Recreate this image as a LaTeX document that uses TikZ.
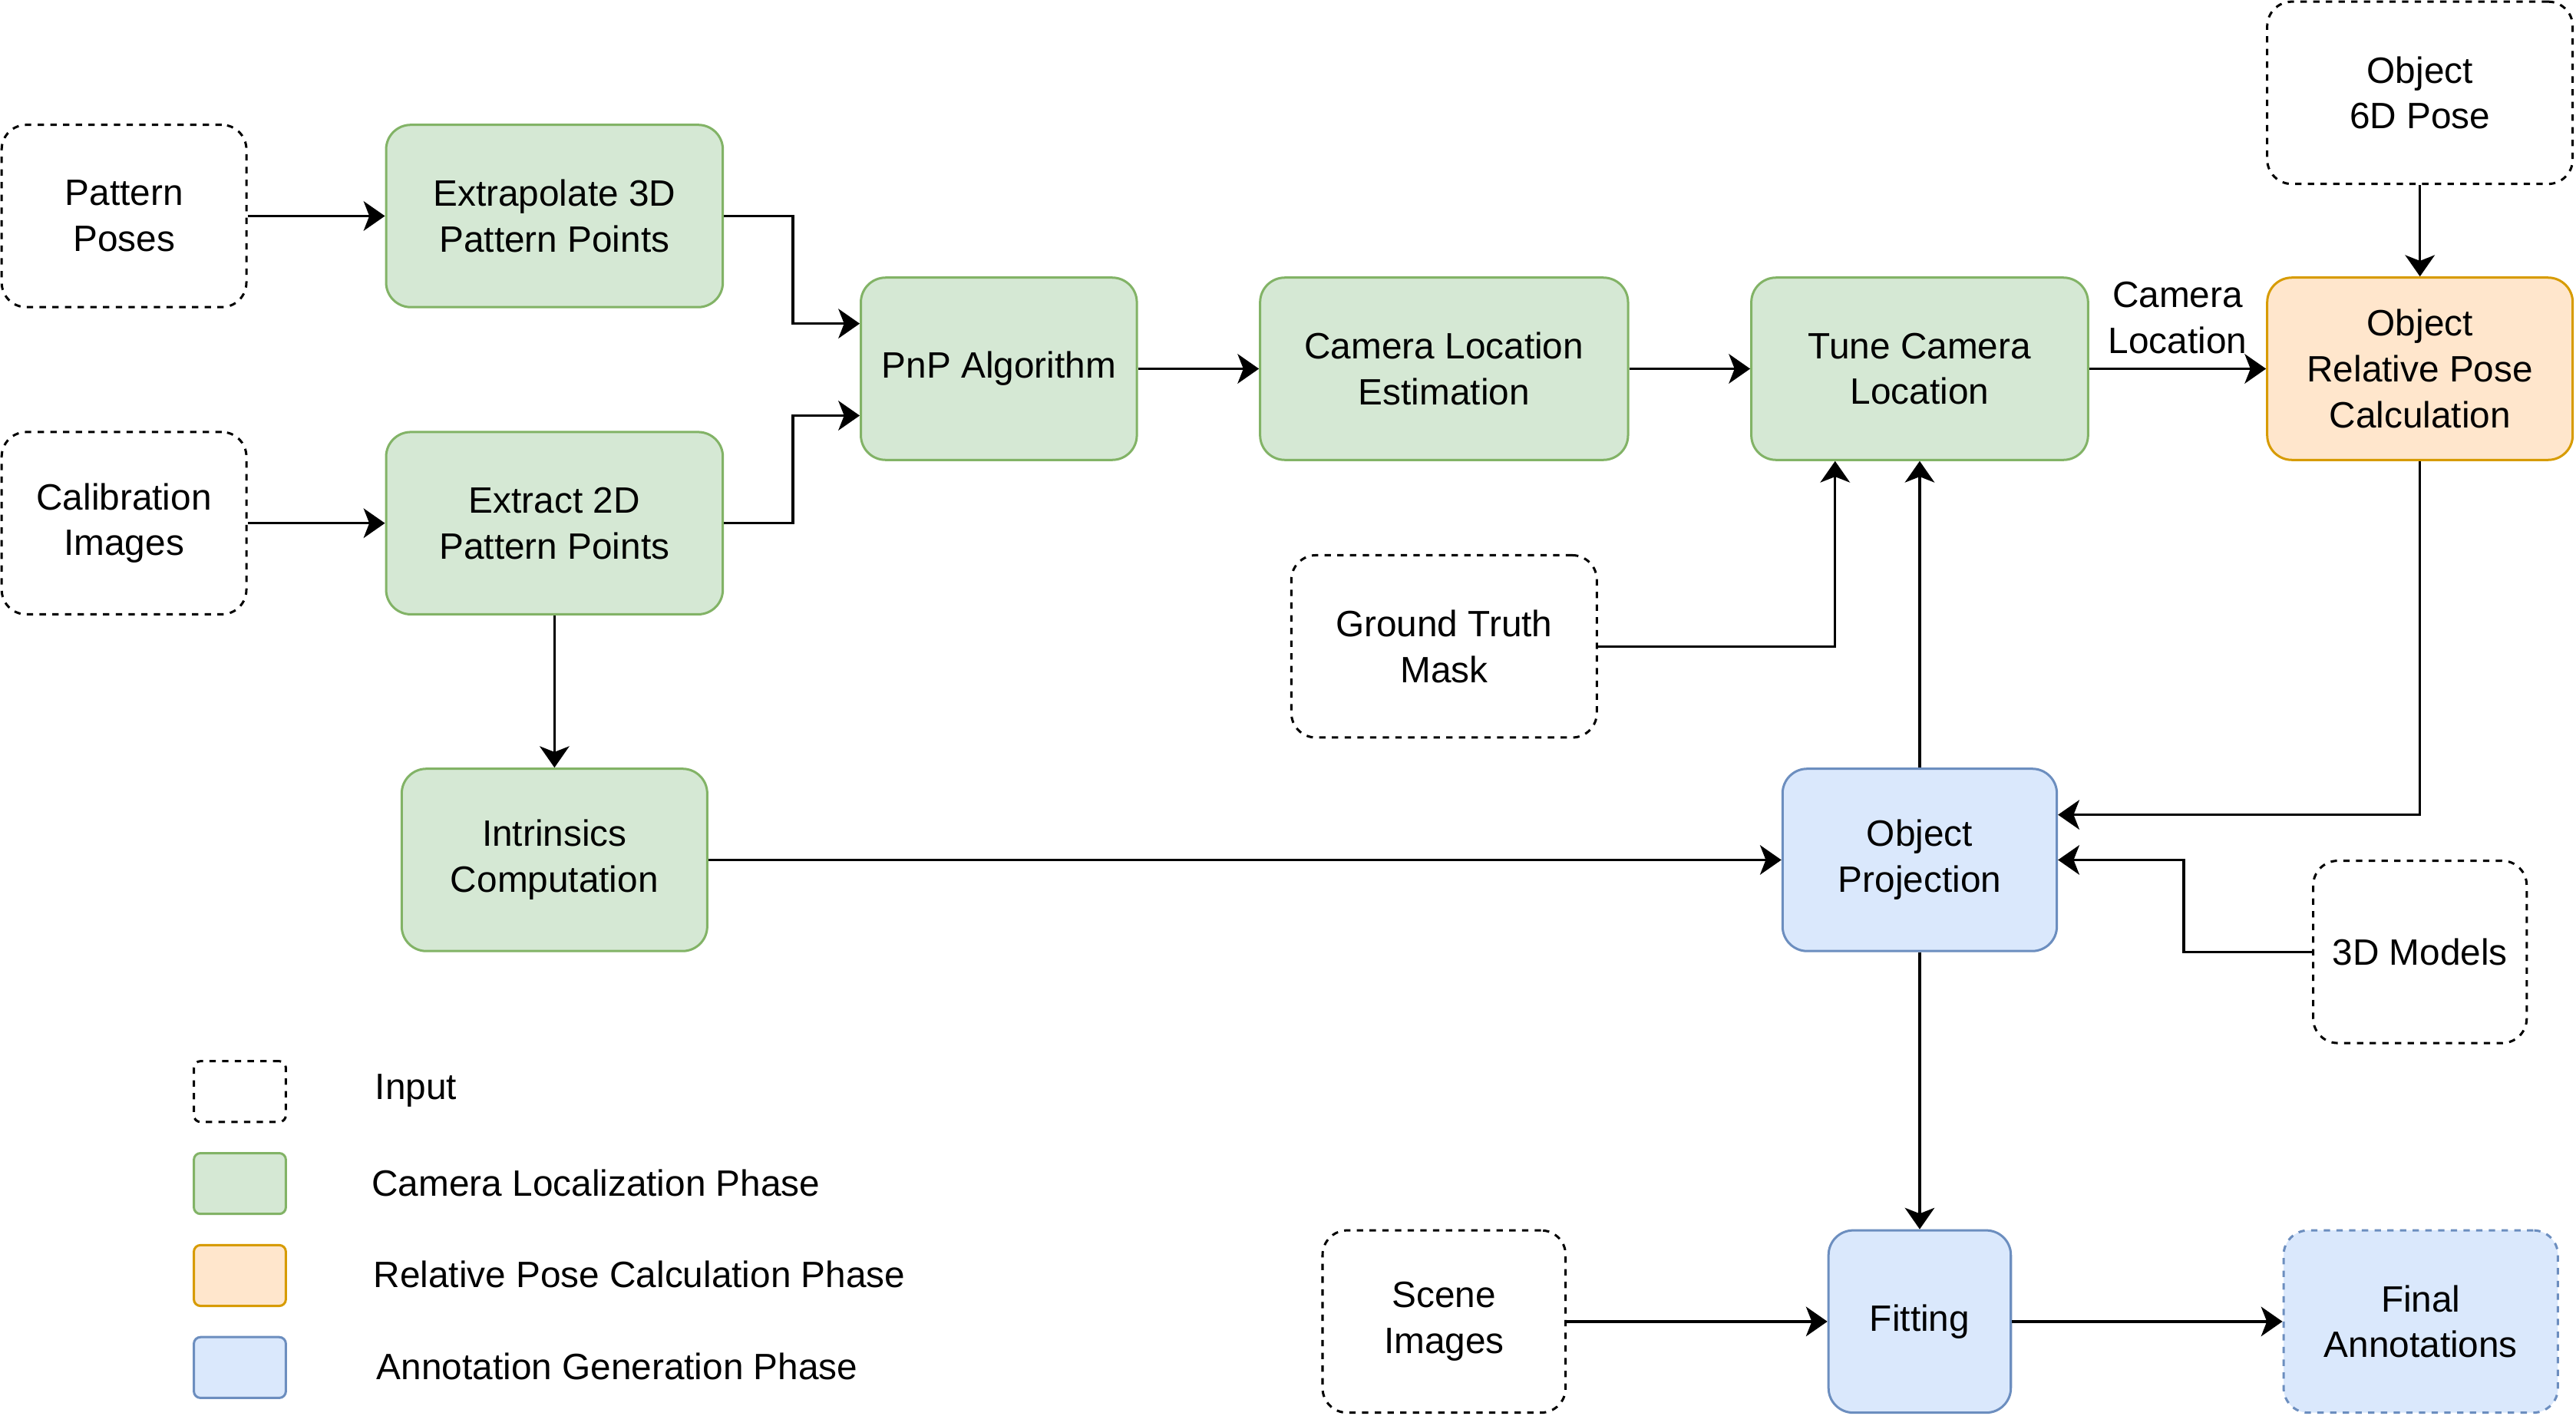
\documentclass[tikz,border=0pt]{standalone}
\usepackage{fontspec}
\setmainfont{Liberation Sans}
\usetikzlibrary{arrows.meta}

\definecolor{greenfill}{HTML}{D5E8D4}
\definecolor{greenline}{HTML}{82B366}
\definecolor{orangefill}{HTML}{FFE6CC}
\definecolor{orangeline}{HTML}{D79B00}
\definecolor{bluefill}{HTML}{DAE8FC}
\definecolor{blueline}{HTML}{6C8EBF}

\tikzset{
	box/.style={draw, rounded corners=0.3cm, align=center, inner sep=0pt, minimum height=2.22cm, line width=0.8pt, font=\fontsize{12.7}{15.9}\selectfont},
	inputbox/.style={box, draw=black, fill=white, dash pattern=on 2.2pt off 2.2pt},
	camphase/.style={box, draw=greenline, fill=greenfill},
	posephase/.style={box, draw=orangeline, fill=orangefill},
	annophase/.style={box, draw=blueline, fill=bluefill},
	keybox/.style={rounded corners=0.08cm, minimum width=1.12cm, minimum height=0.74cm, line width=0.8pt},
	keytext/.style={anchor=west, inner sep=0pt, font=\fontsize{12.7}{15.9}\selectfont},
	arr/.style={-{Stealth[length=0.26cm, width=0.36cm, inset=0.07cm]}, line width=0.9pt}
}

\begin{document}
\begin{tikzpicture}[x=0.02cm, y=-0.02cm]
	\useasboundingbox (0,0) rectangle (1568,862);

	%% inputs
	\node[inputbox, minimum width=2.98cm] (poses) at (75.5,131.5) {Pattern\\Poses};
	\node[inputbox, minimum width=2.98cm] (calib) at (75.5,318.5) {Calibration\\Images};
	\node[inputbox, minimum width=3.72cm] (pose6d) at (1473,56.5) {Object\\6D Pose};
	\node[inputbox, minimum width=3.72cm] (gtmask) at (879,393.5) {Ground Truth\\Mask};
	\node[inputbox, minimum width=2.6cm] (models) at (1473,579.5) {3D Models};
	\node[inputbox, minimum width=2.96cm] (scene) at (879,804.5) {Scene\\Images};

	%% camera localization phase
	\node[camphase, minimum width=4.1cm] (extrap) at (337.5,131.5) {Extrapolate 3D\\Pattern Points};
	\node[camphase, minimum width=4.1cm] (extract) at (337.5,318.5) {Extract 2D\\Pattern Points};
	\node[camphase, minimum width=3.36cm] (pnp) at (608,224.5) {PnP Algorithm};
	\node[camphase, minimum width=4.48cm] (estim) at (879,224.5) {Camera Location\\Estimation};
	\node[camphase, minimum width=4.1cm] (tune) at (1168.5,224.5) {Tune Camera\\Location};
	\node[camphase, minimum width=3.72cm] (intrin) at (337.5,523.5) {Intrinsics\\Computation};

	%% relative pose + annotation
	\node[posephase, minimum width=3.72cm] (relpose) at (1473,224.5) {Object\\Relative Pose\\Calculation};
	\node[annophase, minimum width=3.34cm] (proj) at (1168.5,523.5) {Object\\Projection};
	\node[annophase, minimum width=2.22cm] (fit) at (1168.5,804.5) {Fitting};
	\node[annophase, minimum width=3.34cm, dash pattern=on 2.2pt off 2.2pt] (final) at (1473.5,804.5) {Final\\Annotations};

	\draw[arr] (poses) -- (extrap);
	\draw[arr] (calib) -- (extract);
	\draw[arr] (extrap.east) -- ++(42,0) |- ([yshift=0.55cm]pnp.west);
	\draw[arr] (extract.east) -- ++(42,0) |- ([yshift=-0.57cm]pnp.west);
	\draw[arr] (pnp) -- (estim);
	\draw[arr] (estim) -- (tune);
	\draw[arr] (tune) -- node[above, align=center, inner sep=4.7pt, font=\fontsize{12.7}{15.9}\selectfont]{Camera\\Location} (relpose);
	\draw[arr] (pose6d) -- (relpose);
	\draw[arr] (gtmask.east) -| ([xshift=-1.03cm]tune.south);
	\draw[arr] (proj) -- (tune);
	\draw[arr] (relpose.south) |- ([yshift=0.55cm]proj.east);
	\draw[arr] (models.west) -- ++(-78,0) |- (proj.east);
	\draw[arr] (intrin) -- (proj);
	\draw[arr] (extract) -- (intrin);
	\draw[arr] (proj) -- (fit);
	\draw[arr] (scene) -- (fit);
	\draw[arr] (fit) -- (final);

	%% legend
	\node[keybox, draw=black, dash pattern=on 2.2pt off 2.2pt] (keyin) at (146,664.5) {};
	\node[keybox, draw=greenline, fill=greenfill] (keycam) at (146,720.5) {};
	\node[keybox, draw=orangeline, fill=orangefill] (keypose) at (146,776.5) {};
	\node[keybox, draw=blueline, fill=bluefill] (keyanno) at (146,832.5) {};
	\node[keytext] (lblin) at (228,664) {Input};
	\node[keytext] (lblcam) at (226,720) {Camera Localization Phase};
	\node[keytext] (lblpose) at (227,776) {Relative Pose Calculation Phase};
	\node[keytext] (lblanno) at (229,832) {Annotation Generation Phase};
\end{tikzpicture}
\end{document}
